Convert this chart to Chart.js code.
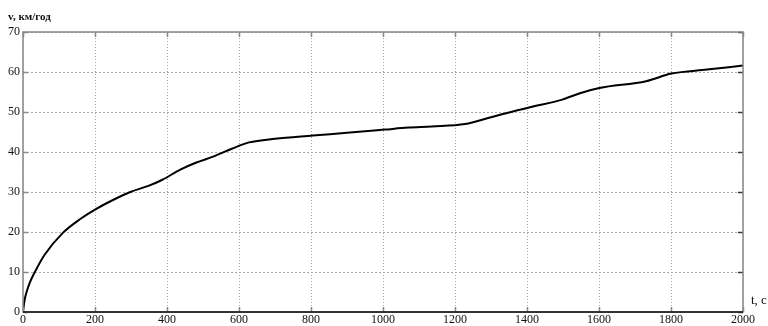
<!DOCTYPE html>
<html>
<head>
<meta charset="utf-8">
<script src="https://cdn.jsdelivr.net/npm/chart.js@4/dist/chart.umd.min.js"></script>
<style>
html,body{margin:0;padding:0;background:#fff;}
#wrap{width:768px;height:326px;position:relative;}
</style>
</head>
<body>
<div id="wrap"><canvas id="c" width="768" height="326"></canvas></div>
<script>
const timeSec = [0, 4, 10, 20, 33, 60, 112, 160, 200, 250, 298, 350, 386, 437, 480, 530, 580, 628, 700, 805, 900, 1005, 1070, 1135, 1228, 1300, 1408, 1498, 1547, 1601, 1731, 1801, 1900, 2000];
const speedKmh = [0, 2.8, 5, 7.6, 10, 14.3, 19.9, 23.3, 25.6, 28, 30, 31.6, 33, 35.6, 37.3, 38.9, 40.8, 42.4, 43.3, 44.1, 44.8, 45.6, 46.1, 46.4, 47, 48.7, 51.2, 53.1, 54.7, 56, 57.7, 59.6, 60.6, 61.6];
const xTicks = [0, 200, 400, 600, 800, 1000, 1200, 1400, 1600, 1800, 2000];
const yTicks = [0, 10, 20, 30, 40, 50, 60, 70];
const yTitle = 'v, км/год';
const xTitle = 't, с';

const FONT = '"Liberation Serif", "DejaVu Serif", serif';

const framePlugin = {
  id: 'frame',
  afterDraw(chart) {
    const {ctx, chartArea: a, scales} = chart;
    ctx.save();
    ctx.strokeStyle = '#888';
    ctx.lineWidth = 1.5;
    const tl = 5;
    xTicks.forEach(v => {
      const x = Math.round(scales.x.getPixelForValue(v)) + 0.5;
      ctx.beginPath();
      ctx.moveTo(x, a.bottom); ctx.lineTo(x, a.bottom - tl);
      ctx.moveTo(x, a.top); ctx.lineTo(x, a.top + tl);
      ctx.stroke();
    });
    yTicks.forEach(v => {
      const y = Math.round(scales.y.getPixelForValue(v)) + 0.5;
      ctx.beginPath();
      ctx.moveTo(a.left, y); ctx.lineTo(a.left + tl, y);
      ctx.stroke();
      ctx.strokeStyle = '#333';
      ctx.beginPath();
      ctx.moveTo(a.right, y); ctx.lineTo(a.right - tl, y);
      ctx.stroke();
      ctx.strokeStyle = '#888';
    });
    ctx.strokeStyle = '#888';
    ctx.lineWidth = 1.5;
    ctx.strokeRect(a.left, a.top, a.right - a.left, a.bottom - a.top);
    ctx.strokeStyle = '#111';
    ctx.lineWidth = 1.5;
    ctx.beginPath();
    ctx.moveTo(a.left, a.bottom); ctx.lineTo(a.right, a.bottom);
    ctx.stroke();
    ctx.fillStyle = '#111';
    ctx.font = 'bold 11px ' + FONT;
    ctx.textBaseline = 'alphabetic';
    ctx.textAlign = 'left';
    ctx.fillText(yTitle, 8, 20);
    ctx.font = '13px ' + FONT;
    ctx.fillText(xTitle, 751, 304);
    ctx.restore();
  }
};

new Chart(document.getElementById('c'), {
  type: 'line',
  data: {
    datasets: [{
      data: timeSec.map((t, i) => ({x: t, y: speedKmh[i]})),
      borderColor: '#000',
      borderWidth: 2,
      pointRadius: 0,
      fill: false,
      cubicInterpolationMode: 'monotone'
    }]
  },
  options: {
    responsive: false,
    animation: false,
    layout: {padding: {top: 32, right: 25, left: 0, bottom: 0}},
    plugins: {legend: {display: false}, tooltip: {enabled: false}},
    scales: {
      x: {
        type: 'linear', min: 0, max: 2000,
        afterBuildTicks: s => { s.ticks = xTicks.map(v => ({value: v})); },
        afterFit: s => { s.height = 14; },
        border: {display: false, dash: [1, 2]},
        grid: {color: '#a8a8a8', lineWidth: 1, drawTicks: false},
        ticks: {padding: 1, color: '#111', font: {family: FONT, size: 12}, maxRotation: 0,
                callback: v => String(v)}
      },
      y: {
        min: 0, max: 70,
        afterBuildTicks: s => { s.ticks = yTicks.map(v => ({value: v})); },
        afterFit: s => { s.width = 23; },
        border: {display: false, dash: [2, 2]},
        grid: {color: '#a8a8a8', lineWidth: 1, drawTicks: false},
        ticks: {padding: 3, color: '#111', font: {family: FONT, size: 12},
                callback: v => String(v)}
      }
    }
  },
  plugins: [framePlugin]
});
</script>
</body>
</html>
